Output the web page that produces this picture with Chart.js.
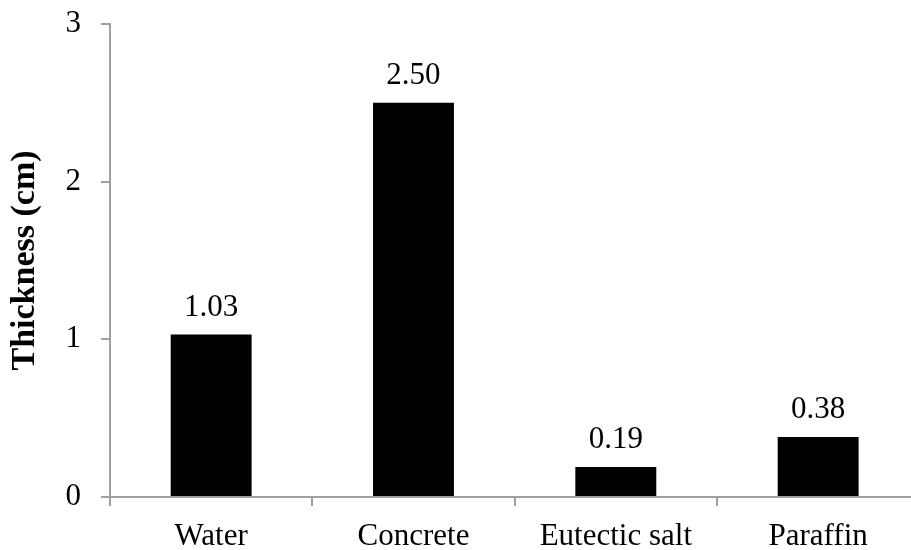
<!DOCTYPE html>
<html>
<head>
<meta charset="utf-8">
<script src="https://cdn.jsdelivr.net/npm/chart.js@4/dist/chart.umd.min.js"></script>
<style>
  html, body { margin: 0; padding: 0; background: #fff; overflow: hidden; }
  #wrap { width: 930px; height: 550px; }
</style>
</head>
<body>
<div id="wrap"><canvas id="chart" width="930" height="550"></canvas></div>
<script>
// Storage material thickness
const categories = ['Water', 'Concrete', 'Eutectic salt', 'Paraffin'];
const thickness = [1.03, 2.50, 0.19, 0.38];
const yMin = 0;
const yMax = 3;
const yStep = 1;

const axisGrey = '#a0a0a0';
const serif = '"Liberation Serif", "Times New Roman", serif';

// Writes each bar's value just above it
const valueLabels = {
  id: 'valueLabels',
  afterDatasetsDraw(chart) {
    const { ctx } = chart;
    ctx.save();
    ctx.font = '31px ' + serif;
    ctx.fillStyle = '#000';
    ctx.textAlign = 'center';
    ctx.textBaseline = 'alphabetic';
    chart.getDatasetMeta(0).data.forEach((bar, i) => {
      ctx.fillText(thickness[i].toFixed(2), bar.x, bar.y - 19);
    });
    ctx.restore();
  }
};

new Chart(document.getElementById('chart'), {
  type: 'bar',
  data: {
    labels: categories,
    datasets: [{
      data: thickness,
      backgroundColor: '#000',
      borderWidth: 0,
      categoryPercentage: 1,
      barPercentage: 0.4
    }]
  },
  options: {
    responsive: false,
    animation: false,
    devicePixelRatio: 1,
    layout: { padding: { top: 24, right: 10.7, bottom: 0, left: 0 } },
    plugins: {
      legend: { display: false },
      tooltip: { enabled: false }
    },
    scales: {
      x: {
        offset: true,
        grid: {
          offset: true,
          drawOnChartArea: false,
          drawTicks: true,
          tickLength: 9,
          color: axisGrey,
          lineWidth: 2
        },
        border: { display: true, color: axisGrey, width: 2 },
        ticks: {
          color: '#000',
          font: { family: serif, size: 31 },
          padding: 12,
          maxRotation: 0,
          autoSkip: false
        },
        afterFit(scale) { scale.height = 53; }
      },
      y: {
        min: yMin,
        max: yMax,
        grid: {
          drawOnChartArea: false,
          drawTicks: true,
          tickLength: 9,
          color: axisGrey,
          lineWidth: 2
        },
        border: { display: true, color: axisGrey, width: 2 },
        ticks: {
          stepSize: yStep,
          color: '#000',
          font: { family: serif, size: 31 },
          padding: 20
        },
        title: {
          display: true,
          text: 'Thickness (cm)',
          color: '#000',
          font: { family: serif, size: 34, weight: 'bold' },
          padding: { top: 5, bottom: 0 }
        },
        afterFit(scale) {
          scale.width = 110;
          scale.paddingTop = 0;
          scale.paddingBottom = 0;
        }
      }
    }
  },
  plugins: [valueLabels]
});
</script>
</body>
</html>
